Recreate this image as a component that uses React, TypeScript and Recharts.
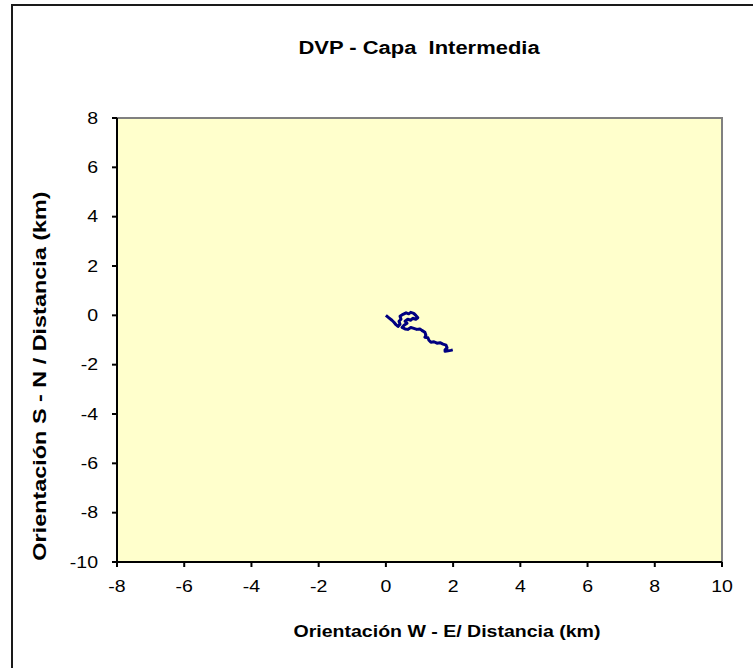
import React from 'react'
import { LineChart, Line, XAxis, YAxis, ReferenceArea } from 'recharts'

// trajectory, km east (x) and km north (y) from the release point
const trackX = [
  0, 0.09, 0.18, 0.24, 0.3, 0.36, 0.42, 0.39, 0.45, 0.42, 0.51, 0.6, 0.68, 0.74, 0.83, 0.89,
  0.95, 0.89, 0.8, 0.74, 0.65, 0.57, 0.63, 0.54, 0.48, 0.57, 0.65, 0.74, 0.83, 0.92, 1.01,
  1.07, 1.16, 1.19, 1.16, 1.25, 1.28, 1.34, 1.43, 1.52, 1.61, 1.7, 1.79, 1.82, 1.76, 1.76,
  1.85, 1.93, 1.99,
]
const trackY = [
  0, -0.1, -0.2, -0.28, -0.38, -0.45, -0.36, -0.24, -0.16, -0.04, 0.04, 0.1, 0.06, 0.12, 0.08,
  0, -0.1, -0.16, -0.12, -0.2, -0.16, -0.24, -0.32, -0.4, -0.49, -0.55, -0.57, -0.49, -0.53,
  -0.57, -0.55, -0.61, -0.69, -0.81, -0.89, -0.91, -1.01, -1.09, -1.07, -1.13, -1.11, -1.17,
  -1.21, -1.32, -1.4, -1.46, -1.44, -1.42, -1.4,
]

const xTicks = [-8, -6, -4, -2, 0, 2, 4, 6, 8, 10]
const yTicks = [-10, -8, -6, -4, -2, 0, 2, 4, 6, 8]

const data = trackX.map((x, i) => ({ x, y: trackY[i] }))

const FONT = '"Liberation Sans", Arial, sans-serif'
const WIDE = 1.22 // the text in this chart is set noticeably wide

const labelStyle: React.CSSProperties = {
  position: 'absolute',
  fontFamily: FONT,
  fontWeight: 'bold',
  color: '#000',
  whiteSpace: 'nowrap',
  lineHeight: 1,
}

function XTick({ x, y, payload }: any) {
  return (
    <g transform={`translate(${x},${y})`}>
      <text transform={`scale(${WIDE},1)`} textAnchor="middle" dy="0.71em" fontSize={16} fontFamily={FONT} fill="#000">
        {payload.value}
      </text>
    </g>
  )
}

function YTick({ x, y, payload }: any) {
  return (
    <g transform={`translate(${x},${y})`}>
      <text transform={`scale(${WIDE},1)`} textAnchor="end" dy="0.355em" fontSize={16} fontFamily={FONT} fill="#000">
        {payload.value}
      </text>
    </g>
  )
}

export default function App() {
  return (
    <div style={{ position: 'absolute', left: 0, top: 0, width: 753, height: 668, overflow: 'hidden', background: '#fff' }}>
      <div style={{ position: 'absolute', left: 11, top: 4, width: 900, height: 900, border: '2px solid #1a1a1a' }} />
      <div style={{ ...labelStyle, left: 419, top: 39, fontSize: 18, transform: `translate(-50%, 0) scaleX(${WIDE})` }}>
        DVP - Capa&nbsp; Intermedia
      </div>
      <LineChart
        width={753}
        height={668}
        data={data}
        margin={{ top: 118, right: 31, bottom: 76, left: 67 }}
        style={{ position: 'absolute', left: 0, top: 0 }}
      >
        <ReferenceArea
          x1={-8}
          x2={10}
          y1={-10}
          y2={8}
          fill="#FFFFCC"
          fillOpacity={1}
          stroke="#808080"
          strokeWidth={2}
          ifOverflow="extendDomain"
        />
        <XAxis
          type="number"
          dataKey="x"
          domain={[-8, 10]}
          ticks={xTicks}
          interval={0}
          allowDataOverflow
          height={30}
          tickSize={5}
          tickMargin={14}
          tick={<XTick />}
          axisLine={{ stroke: '#000', strokeWidth: 2 }}
          tickLine={{ stroke: '#000', strokeWidth: 2 }}
        />
        <YAxis
          type="number"
          dataKey="y"
          domain={[-10, 8]}
          ticks={yTicks}
          interval={0}
          allowDataOverflow
          width={50}
          tickSize={5}
          tickMargin={14}
          tick={<YTick />}
          axisLine={{ stroke: '#000', strokeWidth: 2 }}
          tickLine={{ stroke: '#000', strokeWidth: 2 }}
        />
        <Line
          type="linear"
          dataKey="y"
          stroke="#000080"
          strokeWidth={3}
          strokeLinejoin="round"
          dot={false}
          isAnimationActive={false}
        />
      </LineChart>
      <div style={{ ...labelStyle, left: 447, top: 624, fontSize: 16, transform: `translate(-50%, 0) scaleX(${WIDE})` }}>
        Orientación W - E/ Distancia (km)
      </div>
      <div
        style={{
          ...labelStyle,
          left: 40,
          top: 376,
          fontSize: 18,
          transform: 'translate(-50%, -50%) rotate(-90deg) scaleX(1.3)',
        }}
      >
        Orientación S - N / Distancia (km)
      </div>
    </div>
  )
}
